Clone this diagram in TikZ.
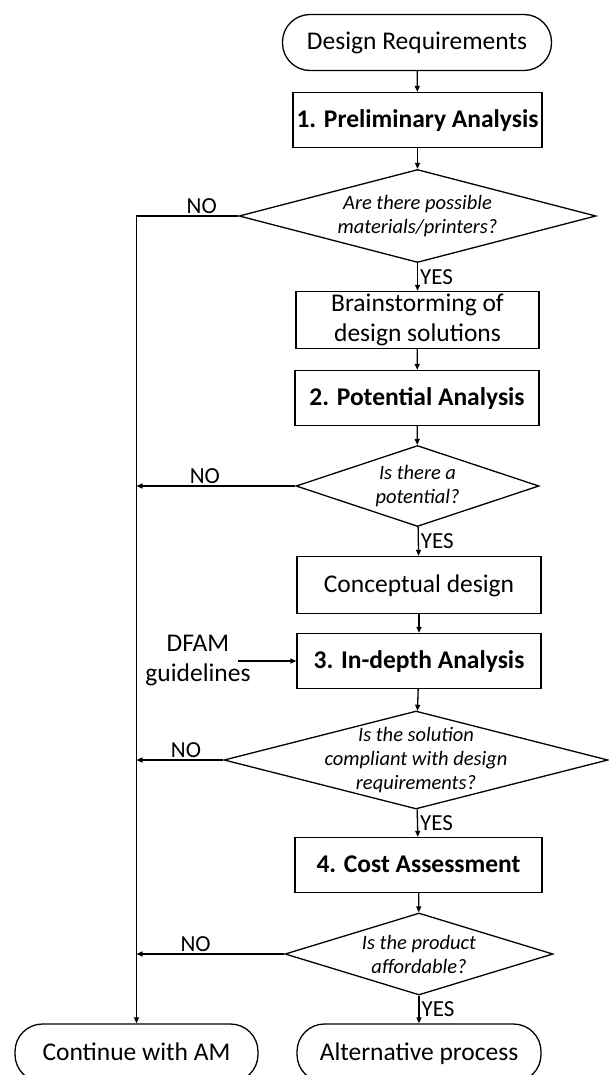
\documentclass[tikz,border=0pt]{standalone}
\usepackage{fontspec}
\setmainfont{Carlito}
\usetikzlibrary{shapes.geometric,arrows.meta}

\begin{document}
\begin{tikzpicture}[x=1pt,y=-1pt,line width=1.3pt,
  every node/.style={font=\fontsize{25.5}{30}\selectfont},
  single/.style={text height=20pt,text depth=5pt},
  term/.style={draw,single,rounded corners=27.5pt,minimum height=56,inner sep=0pt},
  stepbox/.style={draw,rectangle,minimum width=245,minimum height=55,inner sep=0pt,align=center},
  bold/.style={single,font=\fontsize{25.5}{30}\selectfont\bfseries},
  quest/.style={draw,diamond,aspect=3.6,inner sep=0pt,align=center,font=\fontsize{20.5}{24}\selectfont\itshape},
  lbl/.style={font=\fontsize{23}{27}\selectfont,inner sep=2pt},
  arr/.style={-{Triangle[length=6pt,width=5pt]}}]
\useasboundingbox (0,0) rectangle (609,1075);
%---main column-------------------------------------------
\node[term,minimum width=269] (req) at (417,42.5) {Design Requirements};
\node[stepbox,bold,minimum width=249] (pre) at (417.5,120) {1. Preliminary Analysis};
\node[quest,minimum width=357,minimum height=93] (q1) at (417.5,216) {Are there possible\\materials/printers?};
\node[stepbox,minimum width=243,minimum height=57] (brain) at (417.5,320) {Brainstorming of\\design solutions};
\node[stepbox,bold,minimum width=244] (pot) at (417,398) {2. Potential Analysis};
\node[quest,minimum width=243,minimum height=81] (q2) at (417.5,486) {Is there a\\potential?};
\node[stepbox,single,minimum width=244,minimum height=57] (concept) at (419,585) {Conceptual design};
\node[stepbox,bold,minimum width=244] (depth) at (419,661) {3. In-depth Analysis};
\node[quest,inner sep=-12pt,minimum width=384,minimum height=98] (q3) at (416,760) {Is the solution\\compliant with design\\requirements?};
\node[stepbox,bold,minimum width=247] (cost) at (418.5,865) {4. Cost Assessment};
\node[quest,minimum width=268,minimum height=82] (q4) at (419,954) {Is the product\\affordable?};
%---end states--------------------------------------------
\node[term,minimum width=243,minimum height=58] (cont) at (136.5,1053) {Continue with AM};
\node[term,minimum width=244,minimum height=58] (alt) at (419,1053) {Alternative process};
%---input-------------------------------------------------
\node[align=center,inner sep=0pt] (dfam) at (198,661) {DFAM\\guidelines};
\coordinate (dfamin) at (238,661);
%---arrows------------------------------------------------
\draw[arr] (req) -- (pre);
\draw[arr] (pre) -- (q1);
\draw[arr] (q1) -- node[lbl,right]{YES} (brain);
\draw[arr] (brain) -- (pot);
\draw[arr] (pot) -- (q2);
\draw[arr] (q2) -- node[lbl,right]{YES} (concept);
\draw[arr] (concept) -- (depth);
\draw[arr] (dfamin) -- (depth);
\draw[arr] (depth) -- (q3);
\draw[arr] (q3) -- node[lbl,right]{YES} (cost);
\draw[arr] (cost) -- (q4);
\draw[arr] (q4) -- node[lbl,right]{YES} (alt);
%---NO branches-------------------------------------------
\draw[arr] (q1.west) -| node[lbl,above,pos=0.18]{NO} (cont.north);
\draw[arr] (q2.west) -- node[lbl,above,pos=0.57]{NO} (q2.west -| cont.north);
\draw[arr] (q3.west) -- node[lbl,above,pos=0.43]{NO} (q3.west -| cont.north);
\draw[arr] (q4.west) -- node[lbl,above,pos=0.6]{NO} (q4.west -| cont.north);
\end{tikzpicture}
\end{document}
